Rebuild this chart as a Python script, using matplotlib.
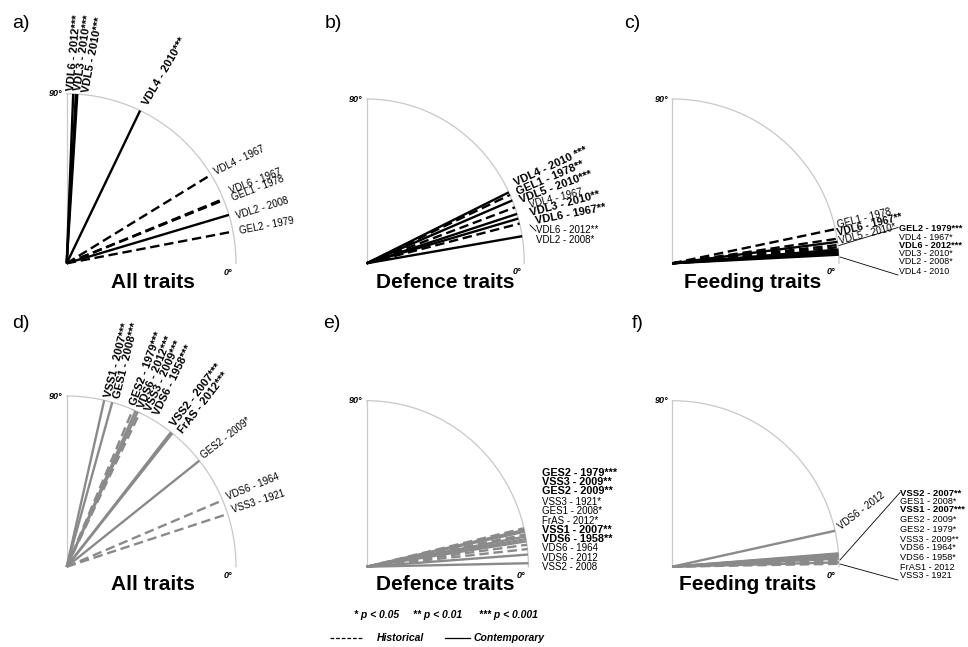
import numpy as np
import matplotlib.pyplot as plt
from matplotlib.lines import Line2D

plt.rcParams['font.family'] = ['Liberation Sans', 'DejaVu Sans']

W, H = 968, 647

# ---- data: direction (deg) of each site-year vector; year < 2000 = historical
# a) all traits
a_sites = ['VDL6', 'VDL3', 'VDL5', 'VDL4', 'VDL4', 'VDL6', 'GEL1', 'VDL2', 'GEL2']
a_years = [2012, 2010, 2010, 2010, 1967, 1967, 1978, 2008, 1979]
a_stars = ['***', '***', '***', '***', '', '', '', '', '']
a_angles = [87.8, 86.9, 86.4, 64.3, 31.5, 22.3, 21.9, 16.6, 10.8]
a_bold = [1, 1, 1, 1, 0, 0, 0, 0, 0]

# b) defence traits
b_sites = ['VDL4', 'GEL1', 'VDL5', 'VDL4', 'VDL3', 'VDL6', 'VDL6', 'VDL2']
b_years = [2010, 1978, 2010, 1967, 2010, 1967, 2012, 2008]
b_stars = [' ***', '**', '***', '', '**', '**', '**', '*']
b_angles = [25.6, 24.6, 22.5, 19.9, 17.5, 14.0, 15.8, 9.5]
b_bold = [1, 1, 1, 0, 1, 1, 0, 0]

# c) feeding traits
c_sites = ['GEL1', 'VDL6', 'VDL5', 'GEL2', 'VDL4', 'VDL6', 'VDL3', 'VDL2', 'VDL4']
c_years = [1978, 1967, 2010, 1979, 1967, 2012, 2010, 2008, 2010]
c_stars = ['', '**', '*', '***', '*', '***', '*', '*', '']
c_angles = [12.0, 8.6, 7.5, 6.4, 5.6, 4.8, 4.2, 3.6, 3.0]
c_bold = [0, 1, 0, 1, 0, 1, 0, 0, 0]

# d) all traits
d_sites = ['VSS1', 'GES1', 'GES2', 'VDS6', 'VSS3', 'VDS6', 'VSS2', 'FrAS', 'GES2', 'VDS6', 'VSS3']
d_years = [2007, 2008, 1979, 2012, 2009, 1958, 2007, 2012, 2009, 1964, 1921]
d_stars = ['***'] * 8 + ['*', '', '']
d_angles = [77.2, 74.4, 67.0, 66.0, 65.2, 64.4, 52.0, 51.4, 38.4, 22.9, 18.0]
d_bold = [1] * 8 + [0] * 3

# e) defence traits
e_sites = ['GES2', 'VSS3', 'GES2', 'VSS3', 'GES1', 'FrAS', 'VSS1', 'VDS6', 'VDS6', 'VDS6', 'VSS2']
e_years = [1979, 2009, 2009, 1921, 2008, 2012, 2007, 1958, 1964, 2012, 2008]
e_stars = ['***', '**', '**', '*', '*', '*', '**', '**', '', '', '']
e_angles = [13.4, 12.8, 12.2, 11.2, 10.5, 9.6, 8.8, 7.6, 6.1, 4.2, 1.2]
e_bold = [1, 1, 1, 0, 0, 0, 1, 1, 0, 0, 0]

# f) feeding traits
f_sites = ['VDS6', 'VSS2', 'GES1', 'VSS1', 'GES2', 'GES2', 'VSS3', 'VDS6', 'VDS6', 'FrAS1', 'VSS3']
f_years = [2012, 2007, 2008, 2007, 2009, 1979, 2009, 1964, 1958, 2012, 1921]
f_stars = ['', '**', '*', '***', '*', '*', '**', '*', '*', '', '']
f_angles = [12.5, 4.6, 4.3, 4.0, 3.6, 3.2, 2.8, 2.4, 2.0, 1.5, 1.0]
f_bold = [0, 1, 0, 1, 0, 0, 0, 0, 0, 0, 0]

# ---- layout (pixels): label anchors (x, y, rotation)
a_pos = [(71, 91, 85), (78, 91, 82), (86, 92, 79.5), (145, 104, 60), (215, 172, 26),
         (230, 191, 21), (232, 198, 21), (236, 216, 17), (239, 231, 11)]
b_pos = [(515, 183, 25), (517, 192, 23), (520, 200, 20), (529, 205, 14), (530, 213, 15),
         (535, 221, 11), (536, 230, 0), (536, 240, 0)]
c_pos = [(837, 225, 14), (837, 233, 14), (839, 241, 14), (899, 229, 0), (899, 237, 0),
         (899, 245, 0), (899, 253, 0), (899, 261, 0), (899, 272, 0)]
d_pos = [(108, 397, 76), (117, 398, 76), (133, 405, 70), (141, 408, 68), (148, 411, 66),
         (156, 415, 64), (173, 425, 52), (181, 432, 52), (202, 457, 38), (227, 497, 22),
         (232, 510, 18)]
e_pos = [(542, y, 0) for y in [473, 482, 491, 502, 511, 521, 530, 539, 548, 558, 567]]
f_pos = [(839, 528, 37)] + [(900, y, 0) for y in [494, 502, 510, 519, 530, 540, 548, 557, 567, 575]]

fig = plt.figure(figsize=(9.68, 6.47), dpi=100)


def fx(x, y):
    return x / W, 1 - y / H


def panel(origin, rx, ry, angles, years, sites, stars, bold, pos, color, title, letter,
          letter_xy, title_xy, fs=(7, 8), list_fs=None, n_rot=None):
    x0, y0 = origin
    ax = fig.add_axes([x0 / W, 1 - y0 / H, rx / W, ry / H])
    ax.set_xlim(0, 1)
    ax.set_ylim(0, 1)
    ax.axis('off')
    th = np.radians(np.linspace(0, 90, 200))
    ax.plot(np.cos(th), np.sin(th), color='#c8c8c8', lw=0.9, clip_on=False)
    ax.plot([0, 0], [0, 1], color='#c8c8c8', lw=0.9, clip_on=False)
    for ang, yr in zip(angles, years):
        r = np.radians(ang)
        ls = (0, (4, 2)) if yr < 2000 else '-'
        ax.plot([0, np.cos(r)], [0, np.sin(r)], color=color, lw=1.7, ls=ls,
                clip_on=False, solid_capstyle='butt', dash_capstyle='butt')
    ax.text(-0.025, 1.0, '90°', transform=ax.transAxes, ha='right', va='center',
            fontsize=6.5, fontweight='bold', style='italic')
    ax.text(0.98, -0.025, '0°', transform=ax.transAxes, ha='right', va='top',
            fontsize=6.5, fontweight='bold', style='italic')
    for i, (s, yr, st, b, (x, y, rot)) in enumerate(zip(sites, years, stars, bold, pos)):
        sizes = fs
        if list_fs is not None and i >= n_rot:
            sizes = list_fs
        fig.text(*fx(x, y), f'{s} - {yr}{st}', rotation=rot, rotation_mode='anchor',
                 ha='left', va='center', fontsize=sizes[1] if b else sizes[0],
                 fontweight='bold' if b else 'normal')
    fig.text(*fx(*title_xy), title, ha='center', va='center', fontsize=15, fontweight='bold')
    fig.text(*fx(*letter_xy), letter, ha='left', va='center', fontsize=14)


def leader(x1, y1, x2, y2):
    fig.add_artist(Line2D([x1 / W, x2 / W], [1 - y1 / H, 1 - y2 / H],
                          transform=fig.transFigure, color='k', lw=0.6))


panel((66.7, 263.3), 169.3, 169.5, a_angles, a_years, a_sites, a_stars, a_bold, a_pos,
      'black', 'All traits', 'a)', (12, 23), (153, 283))
panel((366.7, 263.3), 157.6, 164.3, b_angles, b_years, b_sites, b_stars, b_bold, b_pos,
      'black', 'Defence traits', 'b)', (325, 23), (445, 283))
panel((672.3, 263.3), 166.7, 164.3, c_angles, c_years, c_sites, c_stars, c_bold, c_pos,
      'black', 'Feeding traits', 'c)', (624, 23), (753, 283),
      fs=(7, 7.5), list_fs=(6.4, 6.6), n_rot=3)
panel((66.7, 566.7), 169.3, 170.7, d_angles, d_years, d_sites, d_stars, d_bold, d_pos,
      '#8a8a8a', 'All traits', 'd)', (12, 324), (153, 585))
panel((366.7, 566.7), 161.7, 166.0, e_angles, e_years, e_sites, e_stars, e_bold, e_pos,
      '#8a8a8a', 'Defence traits', 'e)', (323, 324), (445, 585), fs=(7, 7.8))
panel((672.3, 566.7), 166.7, 166.0, f_angles, f_years, f_sites, f_stars, f_bold, f_pos,
      '#8a8a8a', 'Feeding traits', 'f)', (632, 324), (748, 585),
      fs=(7, 7), list_fs=(6.6, 6.8), n_rot=1)

# leader lines
leader(530, 225, 536, 231)
leader(839, 245.5, 898, 227.5)
leader(840, 257, 898, 275)
leader(840, 560, 900, 492.5)
leader(840, 564, 898, 580)

# significance key and line-type key
for txt, x in [('* p < 0.05', 377), ('** p < 0.01', 438), ('*** p < 0.001', 508)]:
    fig.text(*fx(x, 615), txt, ha='center', va='center', fontsize=7.5,
             fontweight='bold', style='italic')
fig.add_artist(Line2D([330 / W, 362 / W], [1 - 638 / H] * 2, transform=fig.transFigure,
                      color='k', lw=0.9, ls=(0, (3, 1.5))))
fig.add_artist(Line2D([445 / W, 470 / W], [1 - 638 / H] * 2, transform=fig.transFigure,
                      color='k', lw=0.9))
fig.text(*fx(377, 638), 'Historical', ha='left', va='center', fontsize=7.5,
         fontweight='bold', style='italic')
fig.text(*fx(474, 638), 'Contemporary', ha='left', va='center', fontsize=7.5,
         fontweight='bold', style='italic')

fig.savefig('out.png', dpi=100)
